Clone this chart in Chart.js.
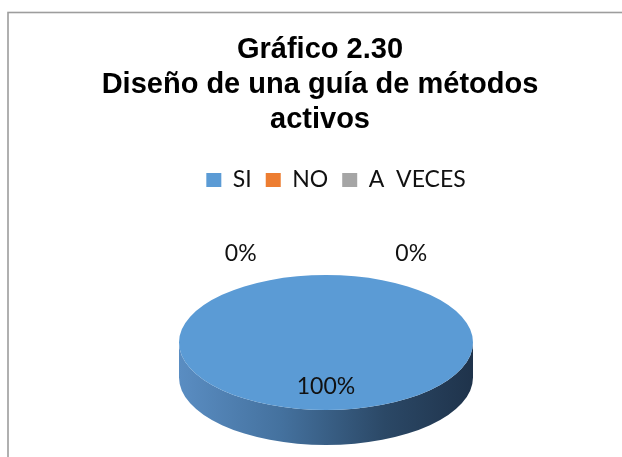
<!DOCTYPE html>
<html>
<head>
<meta charset="utf-8">
<script src="https://cdn.jsdelivr.net/npm/chart.js@4/dist/chart.umd.min.js"></script>
<style>
  html, body { margin: 0; padding: 0; background: #fff; }
  canvas { display: block; }
</style>
</head>
<body>
<canvas id="pieChart" width="622" height="457"></canvas>
<script>
// Chart data
const titleLines = ['Gráfico 2.30', 'Diseño de una guía de métodos', 'activos'];
const categories = ['SI', 'NO', 'A  VECES'];
const values = [100, 0, 0];
const colors = ['#5b9bd5', '#ed7d31', '#a5a5a5'];

// look of the tilted pie
const tilt = { cx: 326, cy: 342.5, ry: 67.5, depth: 35 };
const legendShift = 16;

// outer frame of the Excel chart
const framePlugin = {
    id: 'frame',
    beforeDraw(chart) {
        const c = chart.ctx;
        c.save();
        c.fillStyle = '#fff';
        c.fillRect(0, 0, chart.width, chart.height);
        c.strokeStyle = '#9d9d9d';
        c.lineWidth = 1.6;
        c.strokeRect(8, 12.5, 1000, 1000);
        c.restore();
    },
    afterLayout(chart) {
        // legend sits a bit right of the title in the original
        chart.legend.left += legendShift;
        chart.legend.right += legendShift;
    }
};

// squash the pie into an ellipse and add the side wall
const pie3dPlugin = {
    id: 'pie3d',
    beforeDatasetsDraw(chart) {
        const c = chart.ctx;
        const arcs = chart.getDatasetMeta(0).data;
        const r = arcs[0].outerRadius;
        const k = tilt.ry / r;
        c.save();
        arcs.forEach(arc => {
            if (arc.endAngle - arc.startAngle <= 0) return;
            // only the front half (angles 0..PI) shows its wall
            let a0 = Math.max(arc.startAngle, 0);
            let a1 = Math.min(arc.endAngle, Math.PI);
            if (a1 <= a0) return;
            const g = c.createLinearGradient(tilt.cx - r, 0, tilt.cx + r, 0);
            g.addColorStop(0, '#5a8dc2');
            g.addColorStop(0.35, '#44719e');
            g.addColorStop(0.7, '#2b4866');
            g.addColorStop(1, '#1f334b');
            c.beginPath();
            c.ellipse(tilt.cx, tilt.cy, r, tilt.ry, 0, a0, a1);
            c.ellipse(tilt.cx, tilt.cy + tilt.depth, r, tilt.ry, 0, a1, a0, true);
            c.closePath();
            c.fillStyle = g;
            c.fill();
        });
        c.restore();
        c.save();
        const a = arcs[0];
        c.translate(tilt.cx, tilt.cy);
        c.scale(1, k);
        c.translate(-a.x, -a.y);
    },
    afterDatasetsDraw(chart) {
        const c = chart.ctx;
        c.restore();
        // data labels
        const arcs = chart.getDatasetMeta(0).data;
        const total = values.reduce((s, v) => s + v, 0);
        const r = arcs[0].outerRadius;
        const k = tilt.ry / r;
        c.save();
        c.font = '23px Lato';
        c.fillStyle = '#111';
        c.textAlign = 'center';
        c.textBaseline = 'middle';
        let zeroCount = 0;
        arcs.forEach((arc, i) => {
            const pct = Math.round(values[i] / total * 100) + '%';
            const mid = (arc.startAngle + arc.endAngle) / 2;
            let x, y;
            if (values[i] === 0) {
                const side = zeroCount === 0 ? -1 : 1;
                zeroCount++;
                x = tilt.cx + side * 0.58 * r;
                y = tilt.cy - tilt.ry - 21;
            } else {
                x = tilt.cx + Math.cos(mid) * r * 0.65;
                y = tilt.cy + Math.sin(mid) * r * 0.65 * k;
            }
            c.fillText(pct, x, y);
        });
        c.restore();
    }
};

const ctx = document.getElementById('pieChart').getContext('2d');
const pieChart = new Chart(ctx, {
    type: 'pie',
    data: {
        labels: categories,
        datasets: [{
            data: values,
            backgroundColor: colors,
            borderWidth: 0
        }]
    },
    options: {
        responsive: false,
        animation: false,
        radius: 147,
        layout: { padding: { left: 18, top: 12, right: 0, bottom: 0 } },
        plugins: {
            title: {
                display: true,
                text: titleLines,
                color: '#000',
                font: { family: 'Liberation Sans', size: 29, weight: 'bold', lineHeight: 1.2 },
                padding: { top: 21, bottom: 17 }
            },
            legend: {
                display: true,
                position: 'top',
                labels: {
                    color: '#111',
                    font: { family: 'Lato', size: 23 },
                    boxWidth: 15,
                    boxHeight: 14,
                    padding: 14
                }
            },
            tooltip: { enabled: false }
        }
    },
    plugins: [framePlugin, pie3dPlugin]
});
</script>
</body>
</html>
